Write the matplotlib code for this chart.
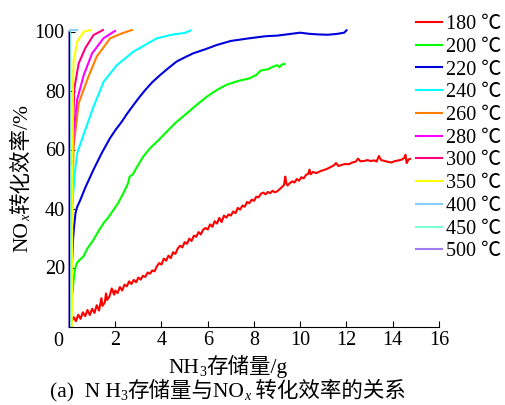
import numpy as np
import matplotlib
matplotlib.use("Agg")
import matplotlib.pyplot as plt

plt.rcParams['font.family'] = ['Liberation Serif', 'Noto Sans CJK SC', 'DejaVu Sans']

# ---- data (NH3 storage g, NOx conversion %) ----
x180 = [0.10, 0.20, 0.30, 0.40, 0.50, 0.60, 0.70, 0.80, 0.90, 1.00, 1.10, 1.20, 1.30, 1.40,
        1.45, 1.55, 1.60, 1.65, 1.75, 1.85, 1.95, 2.00, 2.10, 2.20, 2.30, 2.40, 2.50, 2.60,
        2.70, 2.80, 2.90, 3.00, 3.10, 3.20, 3.30, 3.40, 3.50, 3.60, 3.70, 3.80, 3.90, 4.00,
        4.10, 4.20, 4.30, 4.40, 4.50, 4.60, 4.70, 4.80, 4.90, 5.00, 5.10, 5.20, 5.30, 5.40,
        5.50, 5.60, 5.70, 5.80, 5.90, 6.00, 6.10, 6.20, 6.30, 6.40, 6.50, 6.60, 6.70, 6.80,
        6.90, 7.00, 7.10, 7.20, 7.30, 7.40, 7.50, 7.60, 7.70, 7.80, 7.90, 8.00, 8.10, 8.20,
        8.30, 8.40, 8.50, 8.60, 8.70, 8.80, 8.90, 9.00, 9.10, 9.20, 9.30, 9.35, 9.40, 9.45,
        9.55, 9.65, 9.75, 9.85, 9.95, 10.05, 10.15, 10.25, 10.35, 10.40, 10.45, 10.55, 10.70,
        10.85, 11.00, 11.15, 11.30, 11.45, 11.55, 11.65, 11.80, 11.95, 12.10, 12.25, 12.40,
        12.50, 12.60, 12.75, 12.90, 13.05, 13.20, 13.30, 13.40, 13.50, 13.65, 13.80, 13.95,
        14.10, 14.25, 14.40, 14.50, 14.55, 14.60, 14.68, 14.75]
y180 = [1.5, 3.2, 1.8, 4.0, 2.6, 4.8, 3.5, 5.6, 3.9, 6.0, 4.6, 7.2, 5.4, 9.6,
        7.0, 8.2, 11.2, 9.0, 10.2, 12.9, 10.8, 12.2, 11.3, 13.4, 12.2, 14.2, 13.6, 15.3,
        14.4, 15.8, 15.0, 16.6, 15.9, 17.2, 16.8, 18.3, 17.9, 19.0, 18.7, 20.4, 21.5, 21.0,
        23.0, 22.3, 24.0, 23.2, 25.2, 24.6, 26.4, 27.4, 26.8, 28.6, 28.0, 29.8, 29.0, 30.8,
        30.4, 32.0, 31.2, 32.8, 33.4, 32.9, 34.6, 33.8, 35.7, 34.9, 36.8, 35.4, 37.6, 36.9,
        38.0, 37.6, 39.0, 38.4, 40.2, 39.6, 41.0, 40.6, 42.2, 41.8, 43.0, 42.6, 44.0, 43.8,
        45.0, 45.4, 44.8, 45.6, 45.2, 46.0, 45.5, 45.8, 46.5, 47.2, 48.0, 50.8, 48.6, 47.8,
        48.6, 49.2, 48.8, 50.0, 49.4, 50.6, 50.2, 51.4, 51.8, 53.2, 51.6, 52.4, 52.0,
        52.6, 53.0, 53.4, 54.0, 54.6, 55.4, 54.4, 54.8, 55.1, 55.0, 55.6, 55.9,
        56.9, 56.0, 56.1, 56.4, 56.1, 56.3, 55.9, 57.8, 56.4, 56.1, 55.8, 55.6,
        56.1, 56.3, 56.6, 57.2, 58.2, 55.4, 56.6, 56.8]

x200 = [0.08, 0.10, 0.13, 0.17, 0.20, 0.25, 0.33, 0.45, 0.62, 0.80, 1.05, 1.25, 1.49, 1.70,
        1.92, 2.10, 2.35, 2.55, 2.62, 2.75, 2.92, 3.20, 3.50, 3.85, 4.22, 4.60, 5.10, 5.50,
        5.96, 6.40, 6.80, 7.30, 7.80, 8.10, 8.30, 8.60, 8.80, 9.00, 9.10, 9.20, 9.33]
y200 = [3.0, 8.0, 10.0, 13.0, 15.8, 19.0, 21.4, 22.5, 23.7, 26.5, 29.3, 32.0, 35.0, 37.0,
        39.5, 41.5, 45.2, 48.5, 50.8, 51.5, 53.8, 57.5, 60.4, 63.0, 66.0, 69.0, 72.3, 75.0,
        77.9, 80.2, 81.9, 83.2, 84.1, 85.3, 86.8, 87.2, 88.0, 88.6, 87.9, 88.8, 89.0]

x220 = [0.12, 0.15, 0.18, 0.22, 0.28, 0.35, 0.49, 0.70, 1.05, 1.41, 1.77, 2.00, 2.28, 2.50,
        2.78, 3.05, 3.30, 3.60, 3.95, 4.30, 4.65, 5.00, 5.37, 5.90, 6.38, 7.00, 7.80, 8.50,
        9.00, 9.60, 10.00, 10.40, 10.80, 11.20, 11.60, 11.90, 12.00]
y220 = [20.0, 25.0, 30.0, 34.0, 38.4, 40.5, 42.9, 47.0, 53.0, 58.7, 63.8, 66.5, 69.4, 72.0,
        75.0, 77.8, 80.2, 82.8, 85.3, 87.6, 89.8, 91.2, 92.6, 94.0, 95.4, 96.8, 97.7, 98.4,
        98.6, 99.2, 99.6, 99.2, 99.0, 98.9, 99.2, 99.6, 100.4]

x240 = [0.08, 0.12, 0.18, 0.25, 0.35, 0.70, 1.06, 1.50, 2.07, 2.79, 3.80, 4.50, 5.00, 5.24]
y240 = [25.0, 35.0, 45.0, 52.0, 58.7, 66.6, 74.5, 83.0, 88.6, 93.2, 97.7, 99.0, 99.5, 100.3]

x260 = [0.10, 0.14, 0.20, 0.42, 0.84, 1.20, 1.78, 2.30, 2.72]
y260 = [30.0, 45.0, 61.0, 75.7, 84.7, 91.5, 97.7, 99.4, 100.5]

x280 = [0.15, 0.20, 0.35, 0.64, 1.00, 1.49, 1.99]
y280 = [55.0, 66.0, 76.8, 85.3, 92.6, 97.7, 100.2]

x300 = [0.18, 0.23, 0.42, 0.70, 1.06, 1.47]
y300 = [70.0, 80.7, 89.2, 94.3, 98.8, 100.5]

x350 = [0.12, 0.15, 0.17, 0.20, 0.35, 0.63, 0.95]
y350 = [0.0, 50.0, 81.0, 90.0, 96.5, 99.9, 100.5]

x400 = [0.05, 0.05, 0.33]
y400 = [0.0, 100.5, 100.5]

x450 = [0.03, 0.03]
y450 = [0.0, 100.0]

x500 = [0.02, 0.02]
y500 = [0.0, 100.0]

series = [(x180, y180, '180 ℃', '#FF0000'),
          (x200, y200, '200 ℃', '#00FF00'),
          (x220, y220, '220 ℃', '#0000DD'),
          (x240, y240, '240 ℃', '#00FFFF'),
          (x260, y260, '260 ℃', '#FF8000'),
          (x280, y280, '280 ℃', '#FF00FF'),
          (x300, y300, '300 ℃', '#FF0080'),
          (x350, y350, '350 ℃', '#FFFF00'),
          (x400, y400, '400 ℃', '#87CEFA'),
          (x450, y450, '450 ℃', '#7FFFD4'),
          (x500, y500, '500 ℃', '#A07CF0')]

FS = 14.5      # ticks and legend
LFS = 15.5     # axis titles and caption
W, H = 506, 405

fig = plt.figure(figsize=(W / 100, H / 100), dpi=100)
ax = fig.add_axes([69 / W, 1 - 326.5 / H, 370 / W, 295 / H])

for xs, ys, lab, col in series:
    ax.plot(xs, ys, color=col, lw=1.5, label=lab, clip_on=False)

ax.set_xlim(0, 16)
ax.set_ylim(0, 100)
for s in ['top', 'right']:
    ax.spines[s].set_visible(False)

ax.set_xticks(np.arange(0, 17, 2))
ax.set_xticklabels([''] + [str(v) for v in range(2, 17, 2)])
ax.set_yticks([20, 40, 60, 80, 100])
ax.tick_params(direction='in', length=4, labelsize=FS, pad=3)
ax.annotate('0', xy=(-0.46, 0), xycoords=('data', 'axes fraction'),
            xytext=(0, -4), textcoords='offset points', ha='center', va='top',
            fontsize=FS, annotation_clip=False)


def rich_text(cx, cy, pieces, rotation=0):
    """Pieces (text, size, style, shift px) laid out one after another,
    centred on pixel position (cx, cy) of the figure."""
    r = fig.canvas.get_renderer()
    objs, widths = [], []
    for txt, size, style, shift in pieces:
        t = fig.text(0, 0, txt, fontsize=size, style=style, va='baseline', ha='left',
                     rotation=rotation, rotation_mode='anchor')
        bb = t.get_window_extent(r)
        widths.append(bb.height if rotation else bb.width)
        objs.append(t)
    total = sum(widths)
    pos = -total / 2
    for (txt, size, style, shift), t, w in zip(pieces, objs, widths):
        if rotation:
            t.set_position(((cx + shift + 5) / W, (cy + pos) / H))
        else:
            t.set_position(((cx + pos) / W, (cy - 5 - shift) / H))
        pos += w


rich_text(22, H - 178, [('NO', LFS, 'normal', 0), ('x', LFS * 0.65, 'italic', 3),
                        ('转化效率/%', LFS, 'normal', 0)], rotation=90)
rich_text(228, H - 368, [('NH', LFS, 'normal', 0), ('3', LFS * 0.65, 'normal', 3),
                         ('存储量/g', LFS, 'normal', 0)])
rich_text(228, H - 392, [('(a)  N H', LFS, 'normal', 0), ('3', LFS * 0.65, 'normal', 3),
                         ('存储量与NO', LFS, 'normal', 0), ('x', LFS * 0.65, 'italic', 3),
                         (' 转化效率的关系', LFS, 'normal', 0)])

fig.legend(loc='upper left', bbox_to_anchor=(416 / W, 1 - 15 / H), frameon=False,
           fontsize=FS, handlelength=1.3, handletextpad=0.2, labelspacing=0.18,
           borderpad=0, borderaxespad=0)

fig.savefig('out.png', dpi=100)
